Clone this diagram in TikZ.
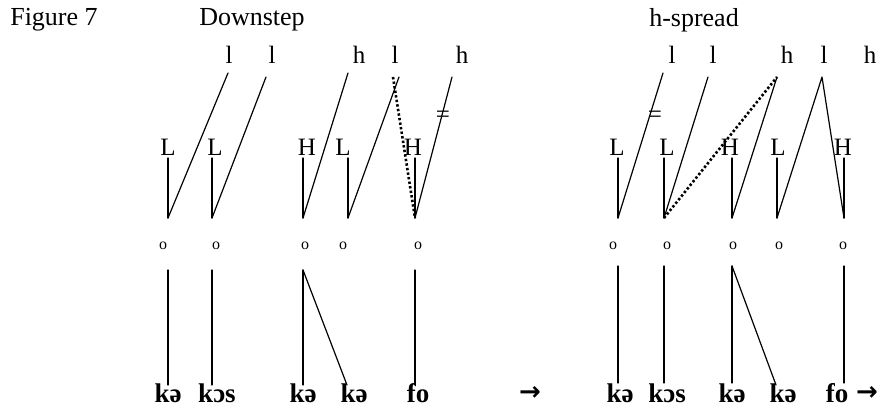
\documentclass[tikz,border=0pt]{standalone}
\usepackage{fontspec}
\setmainfont{Liberation Serif}
\newfontfamily\arrowfont{DejaVu Sans}
\begin{document}
\begin{tikzpicture}[line cap=round, line join=round, x=1pt, y=-1pt,
    title/.style={inner sep=0pt, font=\fontsize{26}{26}\selectfont},
    tone/.style={inner sep=0pt, font=\fontsize{25}{25}\selectfont},
    mora/.style={inner sep=0pt, font=\fontsize{16}{16}\selectfont},
    seg/.style={inner sep=0pt, font=\fontsize{27}{27}\selectfont\bfseries},
    arr/.style={inner sep=0pt, font=\fontsize{26}{26}\arrowfont\bfseries},
    assoc/.style={line width=1.2pt},
    spread/.style={line width=2.6pt, line cap=butt, dash pattern=on 2.4pt off 2.2pt}]
    \useasboundingbox (0,0) rectangle (886,407);
    % headings
    \node[title] (fig) at (54,20) {Figure 7};
    \node[title] (down) at (252,20) {Downstep};
    \node[title] (spr) at (694,20) {h-spread};
    % left panel: downstep
    \foreach \n/\x/\t in {1/229/l, 2/272/l, 3/359/h, 4/395/l, 5/462/h}
        \node[tone] (lt\n) at (\x,55) {\t};
    \foreach \n/\x/\t in {1/168/L, 2/215/L, 3/307/H, 4/343/L, 5/413/H}
        \node[tone] (lc\n) at (\x,147) {\t};
    \foreach \n/\x in {1/163, 2/216, 3/305, 4/343, 5/418}
        \node[mora] (lo\n) at (\x,246) {o};
    \foreach \n/\x/\t in {1/168/kə, 2/217/kɔs, 3/303/kə, 4/354/kə, 5/418/fo}
        \node[seg] (ls\n) at (\x,393) {\t};
    \foreach \n/\x in {1/168, 2/212, 3/303, 4/348, 5/415} {
        \coordinate (lv\n) at (\x,158);
        \coordinate (lr\n) at (\x,218);
        \coordinate (lm\n) at (\x,270);
        \coordinate (lf\n) at (\x,385);
    }
    \coordinate (la1) at (228,73);
    \coordinate (la2) at (266,77);
    \coordinate (la3) at (348,73);
    \coordinate (la4) at (399,77);
    \coordinate (la5) at (452,77);
    \coordinate (ld) at (393,77);
    \coordinate (lk) at (347,385);
    \foreach \n in {1,...,5} {
        \draw[assoc] (lv\n) -- (lr\n);
        \draw[assoc] (lr\n) -- (la\n);
    }
    \foreach \n in {1,2,3,5}
        \draw[assoc] (lm\n) -- (lf\n);
    \draw[assoc] (lm3) -- (lk);
    \draw[spread] (ld) -- (lr5);
    \node[tone] (leq) at (443,117) {=};
    \node[arr] (larr) at (530,393) {→};
    % right panel: h-spread
    \foreach \n/\x/\t in {1/672/l, 2/713/l, 3/787/h, 4/824/l, 5/870/h}
        \node[tone] (rt\n) at (\x,55) {\t};
    \foreach \n/\x/\t in {1/617/L, 2/667/L, 3/730/H, 4/778/L, 5/843/H}
        \node[tone] (rc\n) at (\x,147) {\t};
    \foreach \n/\x in {1/613, 2/667, 3/733, 4/779, 5/843}
        \node[mora] (ro\n) at (\x,246) {o};
    \foreach \n/\x/\t in {1/620/kə, 2/667/kɔs, 3/732/kə, 4/783/kə, 5/837/fo}
        \node[seg] (rs\n) at (\x,393) {\t};
    \foreach \n/\x in {1/618, 2/664, 3/732, 4/777, 5/844} {
        \coordinate (rv\n) at (\x,158);
        \coordinate (rr\n) at (\x,218);
        \coordinate (rm\n) at (\x,266);
        \coordinate (rf\n) at (\x,383);
    }
    \coordinate (ra1) at (663,73);
    \coordinate (ra2) at (708,77);
    \coordinate (ra3) at (777,77);
    \coordinate (rp) at (822,77);
    \coordinate (rk) at (776,385);
    \foreach \n in {1,...,5}
        \draw[assoc] (rv\n) -- (rr\n);
    \foreach \n in {1,2,3}
        \draw[assoc] (rr\n) -- (ra\n);
    \draw[assoc] (rr4) -- (rp) -- (rr5);
    \foreach \n in {1,2,3,5}
        \draw[assoc] (rm\n) -- (rf\n);
    \draw[assoc] (rm3) -- (rk);
    \draw[spread] (rr2) -- (ra3);
    \node[tone] (req) at (655,117) {=};
    \node[arr] (rarr) at (867,393) {→};
\end{tikzpicture}
\end{document}
